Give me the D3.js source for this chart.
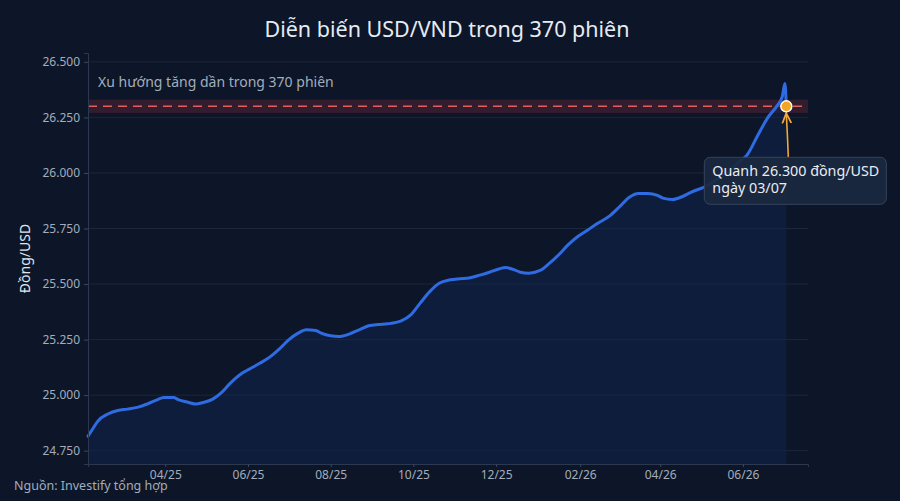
<!DOCTYPE html>
<html>
<head>
<meta charset="utf-8">
<script src="https://cdn.jsdelivr.net/npm/d3@7"></script>
<style>
  html, body { margin: 0; padding: 0; background: #0c1628; }
  svg { display: block; font-family: "Noto Sans", "Open Sans", sans-serif; }
</style>
</head>
<body>
<svg id="chart" width="900" height="501"></svg>
<script>
// ---------- DATA ----------
const dates = [
  "2025-02-03","2025-02-07","2025-02-10","2025-02-18","2025-02-25","2025-03-04","2025-03-12","2025-03-19",
  "2025-03-26","2025-03-31","2025-04-07","2025-04-11","2025-04-17","2025-04-23","2025-04-29","2025-05-06",
  "2025-05-12","2025-05-19","2025-05-27","2025-06-02","2025-06-09","2025-06-17","2025-06-24","2025-07-01",
  "2025-07-08","2025-07-14","2025-07-21","2025-07-25","2025-08-01","2025-08-07","2025-08-15","2025-08-22",
  "2025-08-29","2025-09-05","2025-09-12","2025-09-22","2025-09-29","2025-10-06","2025-10-13","2025-10-20",
  "2025-10-28","2025-11-04","2025-11-11","2025-11-19","2025-11-26","2025-12-03","2025-12-08","2025-12-15",
  "2025-12-19","2025-12-25","2026-01-02","2026-01-09","2026-01-16","2026-01-23","2026-01-30","2026-02-06",
  "2026-02-13","2026-02-23","2026-03-02","2026-03-09","2026-03-16","2026-03-23","2026-03-30","2026-04-03",
  "2026-04-10","2026-04-17","2026-04-24","2026-05-04","2026-05-07","2026-05-14","2026-05-22","2026-05-29",
  "2026-06-04","2026-06-12","2026-06-19","2026-06-26","2026-06-30","2026-07-02","2026-07-03"
];
const values = [
  24815,24853,24881,24916,24931,24937,24946,24961,
  24979,24989,24989,24979,24969,24960,24967,24982,
  25009,25054,25096,25117,25141,25171,25207,25249,
  25279,25294,25291,25279,25267,25264,25276,25294,
  25312,25318,25321,25334,25361,25414,25466,25504,
  25519,25524,25527,25540,25553,25568,25574,25563,
  25553,25549,25560,25592,25631,25676,25713,25741,
  25770,25808,25848,25890,25908,25908,25899,25887,
  25881,25893,25914,25938,25948,25977,26008,26049,
  26080,26170,26246,26301,26343,26403,26300
];
const yTickValues = [24750, 25000, 25250, 25500, 25750, 26000, 26250, 26500];
const xTickDates = ["2025-04-01","2025-06-01","2025-08-01","2025-10-01","2025-12-01","2026-02-01","2026-04-01","2026-06-01"];
const xDomainDates = ["2025-02-03","2026-07-19"];
const yDomain = [24690, 26540];
const refValue = 26300;
const refBand = [26270, 26330];
const titleText = "Diễn biến USD/VND trong 370 phiên";
const yAxisTitle = "Đồng/USD";
const trendText = "Xu hướng tăng dần trong 370 phiên";
const annotLines = ["Quanh 26.300 đồng/USD", "ngày 03/07"];
const sourceText = "Nguồn: Investify tổng hợp";

// ---------- SETUP ----------
const parse = d3.utcParse("%Y-%m-%d");
const data = dates.map((d, i) => ({ date: parse(d), value: values[i] }));

const svg = d3.select("#chart");
const W = 900, H = 501;
const m = { top: 53, right: 92, bottom: 37, left: 88 };
const iw = W - m.left - m.right, ih = H - m.top - m.bottom;

svg.append("rect").attr("width", W).attr("height", H).attr("fill", "#0c1628");

const x = d3.scaleUtc().domain(xDomainDates.map(parse)).range([m.left, m.left + iw]);
const y = d3.scaleLinear().domain(yDomain).range([m.top + ih, m.top]);

const loc = d3.formatLocale({ decimal: ",", thousands: ".", grouping: [3], currency: ["", ""] });
const fmt = loc.format(",.0f");

// gridlines
svg.append("g").selectAll("line").data(yTickValues).join("line")
  .attr("x1", m.left).attr("x2", m.left + iw)
  .attr("y1", d => y(d)).attr("y2", d => y(d))
  .attr("stroke", "#1b273b").attr("stroke-width", 1);

// reference band + dashed line
svg.append("rect")
  .attr("x", m.left).attr("width", iw)
  .attr("y", y(refBand[1])).attr("height", y(refBand[0]) - y(refBand[1]))
  .attr("fill", "#c0303f").attr("fill-opacity", 0.22);
svg.append("line")
  .attr("x1", m.left).attr("x2", m.left + iw)
  .attr("y1", y(refValue)).attr("y2", y(refValue))
  .attr("stroke", "#e0605f").attr("stroke-width", 1.6).attr("stroke-dasharray", "9,6");

// area
const area = d3.area().x(d => x(d.date)).y0(m.top + ih).y1(d => y(d.value)).curve(d3.curveMonotoneX);
svg.append("path").datum(data).attr("d", area).attr("fill", "#12254c").attr("fill-opacity", 0.55);

// line
const line = d3.line().x(d => x(d.date)).y(d => y(d.value)).curve(d3.curveMonotoneX);
svg.append("path").datum(data).attr("d", line)
  .attr("fill", "none").attr("stroke", "#2f6be3").attr("stroke-width", 3)
  .attr("stroke-linejoin", "round").attr("stroke-linecap", "round");

// axes
const yAxis = d3.axisLeft(y).tickValues(yTickValues).tickFormat(fmt).tickSize(4).tickPadding(4);
const gy = svg.append("g").attr("transform", `translate(${m.left},0)`).call(yAxis);
const xAxis = d3.axisBottom(x).tickValues(xTickDates.map(parse)).tickFormat(d3.utcFormat("%m/%y")).tickSize(3).tickPadding(3);
const gx = svg.append("g").attr("transform", `translate(0,${m.top + ih})`).call(xAxis);
[gx, gy].forEach(g => {
  g.select(".domain").attr("stroke", "#2c3850");
  g.selectAll(".tick line").attr("stroke", "#3a465c");
  g.selectAll(".tick text").attr("fill", "#a3adbb").attr("font-size", 12)
    .attr("font-family", "'Noto Sans', sans-serif");
});

// title
svg.append("text").attr("x", 447).attr("y", 37).attr("text-anchor", "middle")
  .attr("fill", "#e6ebf3").attr("font-size", 21.5).text(titleText);

// y axis title
svg.append("text").attr("transform", `translate(30,${m.top + ih / 2}) rotate(-90)`)
  .attr("text-anchor", "middle").attr("fill", "#e0e6ee").attr("font-size", 14).text(yAxisTitle);

// trend label
svg.append("text").attr("x", m.left + 10).attr("y", y(refBand[1]) - 13)
  .attr("fill", "#a3adbb").attr("font-size", 14).text(trendText);

// annotation
const last = data[data.length - 1];
const px = x(last.date), py = y(last.value);
const bx = px - 82, by = py + 51, bw = 182, bh = 47;

svg.append("defs").append("marker")
  .attr("id", "arr").attr("viewBox", "0 0 10 10").attr("refX", 8).attr("refY", 5)
  .attr("markerWidth", 7).attr("markerHeight", 7).attr("orient", "auto-start-reverse")
  .append("path").attr("d", "M0,1 L9,5 L0,9").attr("fill", "none")
  .attr("stroke", "#f2a93b").attr("stroke-width", 1.6);

svg.append("path")
  .attr("d", `M${px + 2},${by} Q${px + 1},${py + 25} ${px},${py + 8}`)
  .attr("fill", "none").attr("stroke", "#f2a93b").attr("stroke-width", 1.6)
  .attr("marker-end", "url(#arr)");

svg.append("rect").attr("x", bx).attr("y", by).attr("width", bw).attr("height", bh)
  .attr("rx", 6).attr("fill", "#1a2840").attr("fill-opacity", 0.92)
  .attr("stroke", "#35445d").attr("stroke-width", 1);
svg.append("text").attr("x", bx + 8).attr("y", by + 19)
  .attr("fill", "#e8edf4").attr("font-size", 14.3).text(annotLines[0]);
svg.append("text").attr("x", bx + 8).attr("y", by + 36)
  .attr("fill", "#e8edf4").attr("font-size", 14.3).text(annotLines[1]);

svg.append("circle").attr("cx", px).attr("cy", py).attr("r", 5.5)
  .attr("fill", "#f5a524").attr("stroke", "#ffffff").attr("stroke-width", 1.5);

// source
svg.append("text").attr("x", 14).attr("y", 490).attr("fill", "#a3adbb")
  .attr("font-size", 12.5).text(sourceText);
</script>
</body>
</html>
